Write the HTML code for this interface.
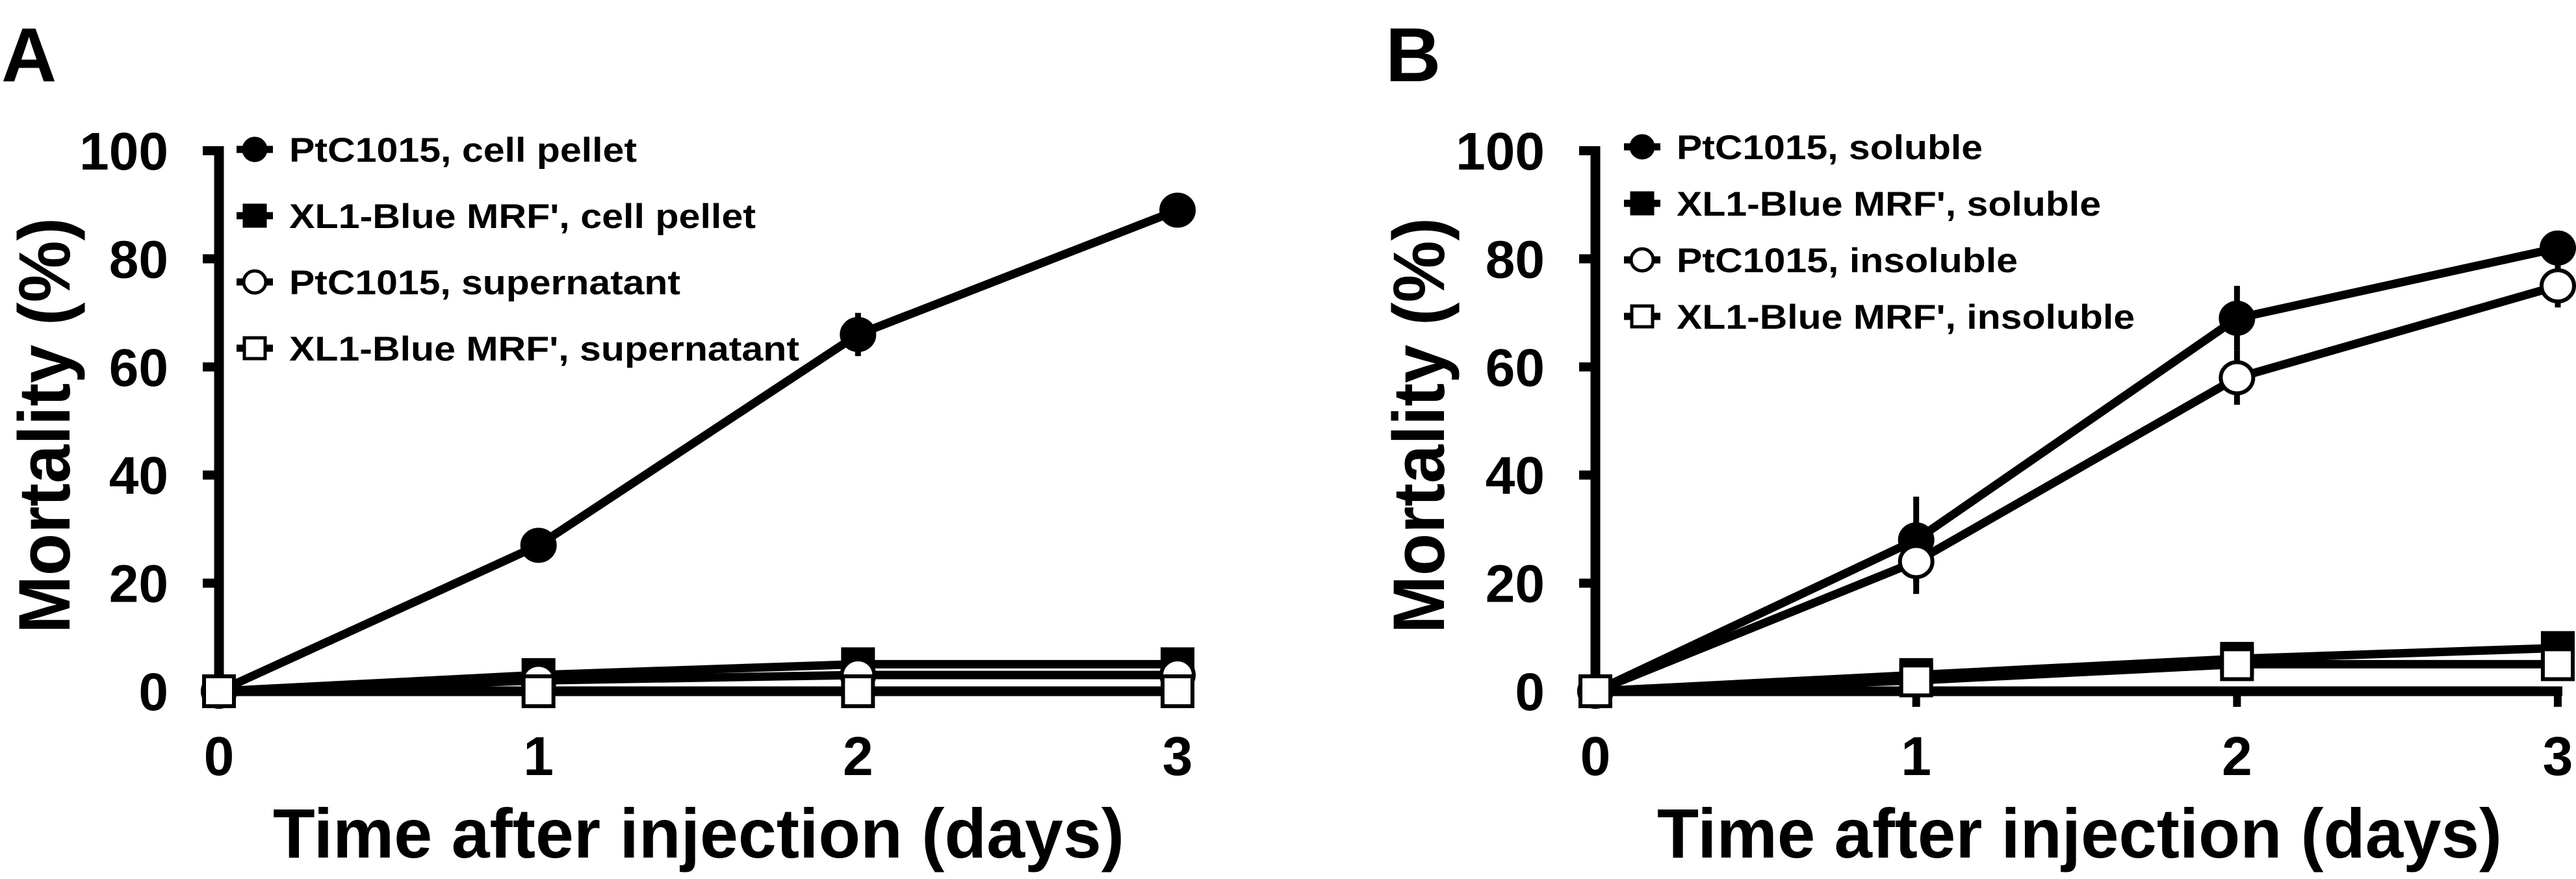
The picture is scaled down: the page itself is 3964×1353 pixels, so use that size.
<!DOCTYPE html>
<html><head><meta charset="utf-8"><style>
html,body{margin:0;padding:0;background:#fff}
svg{display:block}
text{font-family:"Liberation Sans",Arial,sans-serif;font-weight:bold;fill:#000}
</style></head><body>
<svg id="fig" width="3964" height="1353" viewBox="0 0 3964 1353" xmlns="http://www.w3.org/2000/svg"></svg>
<script>
const days = [0, 1, 2, 3];
const yTicks = [0, 20, 40, 60, 80, 100];
// Panel A
const aPtcPellet = [0, 27, 66, 89];
const aPtcPelletErr = [0, 1, 4, 1];
const aXlPellet = [0, 3, 5, 5];
const aPtcSup = [0, 2, 3, 3];
const aXlSup = [0, 0, 0, 0];
const aLabels = ["PtC1015, cell pellet", "XL1-Blue MRF', cell pellet", "PtC1015, supernatant", "XL1-Blue MRF', supernatant"];
// Panel B
const bPtcSol = [0, 28, 69, 82];
const bPtcSolErr = [0, 8, 6, 2];
const bXlSol = [0, 3, 6, 8];
const bPtcIns = [0, 24, 58, 75];
const bPtcInsErr = [0, 6, 5, 4];
const bXlIns = [0, 2, 5, 5];
const bLabels = ["PtC1015, soluble", "XL1-Blue MRF', soluble", "PtC1015, insoluble", "XL1-Blue MRF', insoluble"];

const NS = "http://www.w3.org/2000/svg";
const svg = document.getElementById('fig');
function mk(tag, attrs, parent, txt) {
  const e = document.createElementNS(NS, tag);
  for (const k in attrs) e.setAttribute(k, attrs[k]);
  if (txt !== undefined) e.textContent = txt;
  (parent || svg).appendChild(e);
  return e;
}

function panel(cfg) {
  const g = mk('g', {});
  
  
  const X = d => cfg.x0 + d * (cfg.x3 - cfg.x0) / 3;
  const Y = v => 1064 - v * (1064 - 232) / 100;

  const letter = mk('text', {x: cfg.letterX, y: 125, 'font-size': 118}, g, cfg.letter);
  
  

  // y axis
  const ya = mk('line', {x1: cfg.x0, y1: 225, x2: cfg.x0, y2: 1071, stroke: '#000', 'stroke-width': 15}, g);
  
  
  yTicks.forEach(t => {
    const tk = mk('line', {x1: cfg.x0 - 25, y1: Y(t), x2: cfg.x0, y2: Y(t), stroke: '#000', 'stroke-width': 14}, g);
    
    
    const lbl = mk('text', {x: cfg.x0 - 78, y: Y(t) + 29, 'font-size': 82, 'text-anchor': 'end'}, g, String(t));
    
    
  });
  // x axis
  const xa = mk('line', {x1: cfg.x0 - 7, y1: 1064, x2: X(3) + 7, y2: 1064, stroke: '#000', 'stroke-width': 15}, g);
  
  
  days.forEach(d => {
    const tk = mk('line', {x1: X(d), y1: 1064, x2: X(d), y2: 1088, stroke: '#000', 'stroke-width': 12}, g);
    
    
    const lbl = mk('text', {x: X(d), y: 1193, 'font-size': 84, 'text-anchor': 'middle'}, g, String(d));
    
    
  });
  const xt = mk('text', {x: cfg.xtCenter, y: 1320, 'font-size': 108, 'text-anchor': 'middle', textLength: cfg.xtLen, lengthAdjust: 'spacingAndGlyphs'}, g, 'Time after injection (days)');
  
  
  const yt = mk('text', {x: 0, y: 0, 'font-size': 112, 'text-anchor': 'middle', textLength: 640, lengthAdjust: 'spacingAndGlyphs', transform: `translate(${cfg.ytX},655) rotate(-90)`}, g, 'Mortality (%)');
  
  

  // series
  cfg.series.forEach((s, i) => {
    const sg = mk('g', {}, g);
    
    
    const pts = s.vals.map((v, j) => X(days[j]) + ',' + Y(v)).join(' ');
    const pl = mk('polyline', {points: pts, fill: 'none', stroke: '#000', 'stroke-width': 13, 'stroke-linejoin': 'round'}, sg);
    
    
  });
  cfg.series.forEach(s => {
    const sg = mk('g', {}, g);
    s.vals.forEach((v, j) => {
      const cx = X(days[j]), cy = Y(v);
      if (s.err && s.err[j] > 0) {
        const eb = mk('line', {x1: cx, y1: Y(v + s.err[j]), x2: cx, y2: Y(v - s.err[j]), stroke: '#000', 'stroke-width': 9}, sg);
        
        
      }
      let m;
      if (s.shape === 'circle') m = mk('ellipse', {cx, cy, rx: 25, ry: 24, fill: s.fill, stroke: '#000', 'stroke-width': 6}, sg);
      else m = mk('rect', {x: cx - 23, y: cy - 23, width: 46, height: 46, fill: s.fill, stroke: '#000', 'stroke-width': 6}, sg);
      
      
    });
  });

  // legend
  cfg.labels.forEach((lab, i) => {
    const s = cfg.series[i];
    const ly = cfg.legY0 + i * cfg.legStep;
    const lg = mk('g', {}, g);
    
    
    mk('line', {x1: cfg.legX - 28, y1: ly, x2: cfg.legX + 28, y2: ly, stroke: '#000', 'stroke-width': 11}, lg);
    if (s.shape === 'circle') mk('circle', {cx: cfg.legX, cy: ly, r: 17, fill: s.fill, stroke: '#000', 'stroke-width': 5}, lg);
    else mk('rect', {x: cfg.legX - 16, y: ly - 16, width: 32, height: 32, fill: s.fill, stroke: '#000', 'stroke-width': 5}, lg);
    const t = mk('text', {x: cfg.legX + 53, y: ly + 19, 'font-size': 53, textLength: cfg.legLens[i], lengthAdjust: 'spacingAndGlyphs'}, lg, lab);
    
    
  });
}

panel({
  name: 'panel-a', letter: 'A', letterX: 2, x0: 337, x3: 1812, ytX: 107, xtCenter: 1075, xtLen: 1310,
  legX: 392, legY0: 230, legStep: 102, legLens: [535, 718, 602, 785], labels: aLabels,
  series: [
    {key: 'ptc-pellet', vals: aPtcPellet, err: aPtcPelletErr, shape: 'circle', fill: '#000'},
    {key: 'xl1-pellet', vals: aXlPellet, shape: 'rect', fill: '#000'},
    {key: 'ptc-supernatant', vals: aPtcSup, shape: 'circle', fill: '#fff'},
    {key: 'xl1-supernatant', vals: aXlSup, shape: 'rect', fill: '#fff'}
  ]
});
panel({
  name: 'panel-b', letter: 'B', letterX: 2132, x0: 2455, x3: 3936, ytX: 2222, xtCenter: 3200, xtLen: 1300,
  legX: 2527, legY0: 226, legStep: 87, legLens: [471, 653, 525, 705], labels: bLabels,
  series: [
    {key: 'ptc-soluble', vals: bPtcSol, err: bPtcSolErr, shape: 'circle', fill: '#000'},
    {key: 'xl1-soluble', vals: bXlSol, shape: 'rect', fill: '#000'},
    {key: 'ptc-insoluble', vals: bPtcIns, err: bPtcInsErr, shape: 'circle', fill: '#fff'},
    {key: 'xl1-insoluble', vals: bXlIns, shape: 'rect', fill: '#fff'}
  ]
});
</script>
</body></html>
